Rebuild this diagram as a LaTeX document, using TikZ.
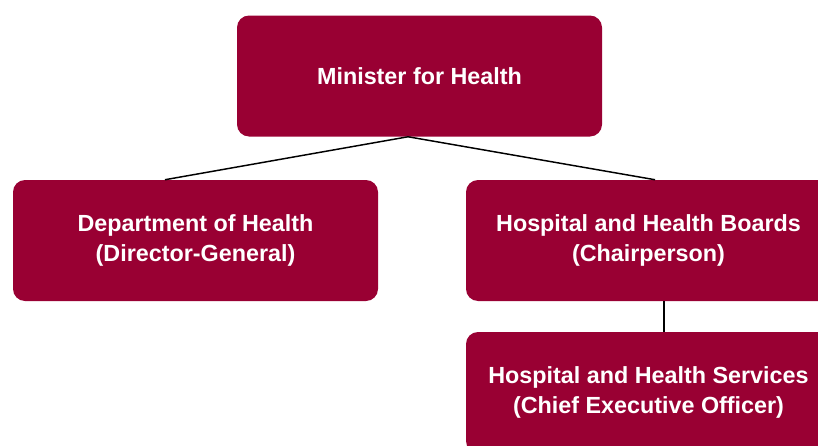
\documentclass[tikz,border=0pt]{standalone}
\usepackage{fontspec}
\setmainfont{Liberation Sans}
\definecolor{healthred}{HTML}{990033}
\tikzset{
	unit/.style={fill=healthred, text=white, rounded corners=9pt, align=center,
		minimum width=273.75pt, minimum height=90.75pt, inner sep=0pt,
		font=\bfseries\fontsize{17.5}{22.5}\selectfont},
	link/.style={draw=black, line width=1.1pt}
}
\begin{document}
\begin{tikzpicture}[x=0.75pt, y=-0.75pt]
	\useasboundingbox (0, 0) rectangle (818, 446);
	
	\coordinate (C1) at (419.5, 76);
	\coordinate (C2) at (195.5, 240.5);
	\coordinate (C3) at (648.5, 240.5);
	\coordinate (C4) at (648.5, 392.5);
	
	\node[unit] (minister) at (C1) {Minister for Health};
	\node[unit] (dept) at (C2) {Department of Health\\(Director-General)};
	\node[unit] (boards) at (C3) {Hospital and Health Boards\\(Chairperson)};
	\node[unit] (services) at (C4) {Hospital and Health Services\\(Chief Executive Officer)};
	
	\draw[link] ([xshift=-8.6pt]minister.south) -- ([xshift=-22.9pt]dept.north);
	\draw[link] ([xshift=-8.6pt]minister.south) -- ([xshift=4.9pt]boards.north);
	\draw[link] ([xshift=11.6pt]boards.south) -- ([xshift=11.6pt]services.north);
\end{tikzpicture}
\end{document}
